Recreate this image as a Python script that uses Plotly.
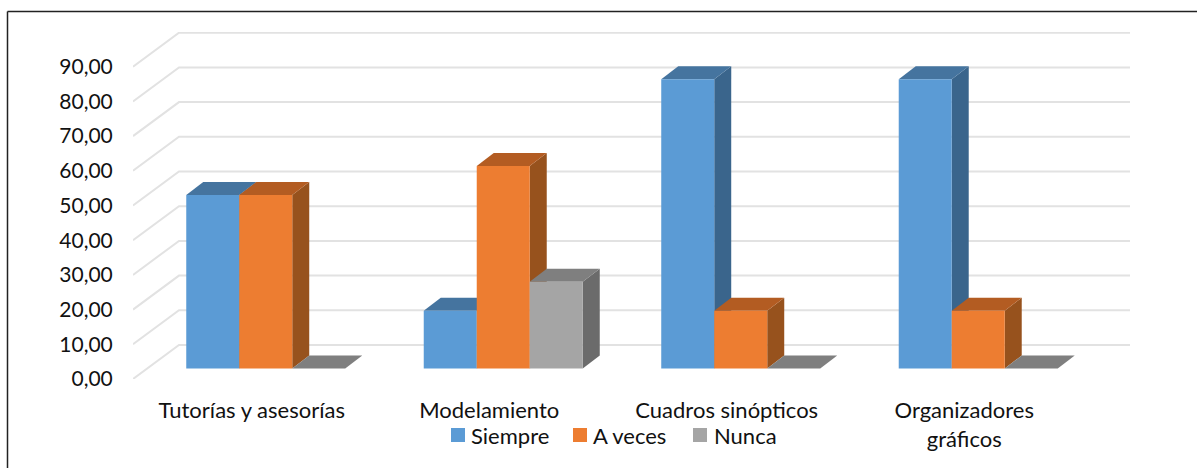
import plotly.graph_objects as go

# Chart data
categories = ["Tutorías y asesorías", "Modelamiento", "Cuadros sinópticos", "Organizadores<br>gráficos"]
siempre = [50.00, 16.67, 83.33, 83.33]
a_veces = [50.00, 58.33, 16.67, 16.67]
nunca = [0.00, 25.00, 0.00, 0.00]
value_ticks = [0, 10, 20, 30, 40, 50, 60, 70, 80, 90]
value_labels = [f"{v:.2f}".replace(".", ",") for v in value_ticks]

# Face colours per series: front, top, side
series = [
    ("Siempre", siempre, "#5B9BD5", "#45749F", "#3A658C"),
    ("A veces", a_veces, "#ED7D31", "#B35C22", "#97521D"),
    ("Nunca", nunca, "#A5A5A5", "#7F7F7F", "#6B6B6B"),
]

# Page size and the left edge of each legend entry, in page pixels
PAGE_W, PAGE_H = 1197, 468
LEGEND_SWATCH_X = [451, 573, 693]
LEGEND_TEXT_X = [471, 593, 714]
LEGEND_Y = 435
SWATCH = 14

# Oblique projection, expressed in axis units
X_MAX = 3.698
Y_MAX = 100.0
WALL_DX, WALL_DY = 46 / 237.5, 34 / 3.47
BAR_FRONT_DX, BAR_FRONT_DY = 14 / 237.5, 10.5 / 3.47
BAR_DEPTH_DX, BAR_DEPTH_DY = 17 / 237.5, 13 / 3.47
BAR_WIDTH = 53 / 237.5
GRID_COLOR = "#E2E2E2"
FONT = "Lato"
FONT_SIZE = 22
VALUE_FONT_SIZE = 21
TEXT_COLOR = "#111111"


def page_x(px):
    return px / PAGE_W


def page_y(px):
    return 1 - px / PAGE_H


def polygon(points, fill):
    path = "M " + " L ".join(f"{x:.4f} {y:.4f}" for x, y in points) + " Z"
    return dict(type="path", xref="x", yref="y", path=path, fillcolor=fill,
                line=dict(width=0), layer="below")


shapes = []

# Wall and floor gridlines run from the front edge back, then along the rear wall
for v in value_ticks:
    path = (f"M -0.5 {v} L {-0.5 + WALL_DX:.4f} {v + WALL_DY:.4f} "
            f"L {X_MAX} {v + WALL_DY:.4f}")
    shapes.append(dict(type="path", xref="x", yref="y", path=path,
                       line=dict(color=GRID_COLOR, width=2), layer="below"))

# Top and side faces, painted left to right so nearer neighbours overlap
for i in range(len(categories)):
    centre = i + BAR_FRONT_DX
    for s, (_, values, _, top, side) in enumerate(series):
        x0 = centre + (s - 1.5) * BAR_WIDTH
        x1 = x0 + BAR_WIDTH
        y0 = BAR_FRONT_DY
        y1 = BAR_FRONT_DY + values[i]
        dx, dy = BAR_DEPTH_DX, BAR_DEPTH_DY
        if values[i] > 0:
            shapes.append(polygon([(x1, y0), (x1 + dx, y0 + dy),
                                   (x1 + dx, y1 + dy), (x1, y1)], side))
        shapes.append(polygon([(x0, y1), (x1, y1),
                               (x1 + dx, y1 + dy), (x0 + dx, y1 + dy)], top))

# Frame on the left and top of the page
frame = dict(color="#222222", width=1.5)
shapes.append(dict(type="line", xref="paper", yref="paper",
                   x0=page_x(7.5), x1=page_x(7.5), y0=0, y1=page_y(11.5), line=frame))
shapes.append(dict(type="line", xref="paper", yref="paper",
                   x0=page_x(7.5), x1=1, y0=page_y(11.5), y1=page_y(11.5), line=frame))

# Legend row below the category labels
annotations = []
for (name, _, front, _, _), sx, tx in zip(series, LEGEND_SWATCH_X, LEGEND_TEXT_X):
    shapes.append(dict(type="rect", xref="paper", yref="paper",
                       x0=page_x(sx), x1=page_x(sx + SWATCH),
                       y0=page_y(LEGEND_Y + SWATCH / 2), y1=page_y(LEGEND_Y - SWATCH / 2),
                       fillcolor=front, line=dict(width=0)))
    annotations.append(dict(xref="paper", yref="paper", x=page_x(tx), y=page_y(LEGEND_Y),
                            text=name, showarrow=False, xanchor="left", yanchor="middle",
                            borderpad=0, borderwidth=0,
                            font=dict(family=FONT, size=FONT_SIZE, color=TEXT_COLOR)))

fig = go.Figure()
x_positions = [i + BAR_FRONT_DX for i in range(len(categories))]
for name, values, front, _, _ in series:
    fig.add_trace(go.Bar(
        name=name,
        x=x_positions,
        y=values,
        base=[BAR_FRONT_DY] * len(values),
        marker=dict(color=front, line=dict(width=0)),
        hovertemplate="%{y:.2f}<extra>" + name + "</extra>",
    ))

fig.update_layout(
    width=PAGE_W,
    height=PAGE_H,
    autosize=False,
    margin=dict(l=0, r=0, t=0, b=0),
    paper_bgcolor="white",
    plot_bgcolor="rgba(0,0,0,0)",
    barmode="group",
    bargap=1 - 3 * BAR_WIDTH,
    bargroupgap=0,
    showlegend=False,
    font=dict(family=FONT, size=FONT_SIZE, color=TEXT_COLOR),
    shapes=shapes,
    annotations=annotations,
    xaxis=dict(
        domain=[page_x(133), page_x(1130)],
        range=[-0.5, X_MAX],
        automargin=False,
        tickmode="array",
        tickvals=list(range(len(categories))),
        ticktext=categories,
        tickangle=0,
        showgrid=False,
        zeroline=False,
        showline=False,
        ticks="outside",
        ticklen=12,
        tickcolor="rgba(0,0,0,0)",
    ),
    yaxis=dict(
        domain=[page_y(379), page_y(32)],
        range=[0, Y_MAX],
        automargin=False,
        tickmode="array",
        tickvals=value_ticks,
        ticktext=value_labels,
        tickfont=dict(size=VALUE_FONT_SIZE),
        showgrid=False,
        zeroline=False,
        showline=False,
        ticks="outside",
        ticklen=15,
        tickcolor="rgba(0,0,0,0)",
    ),
)

fig.write_html("out.html")
